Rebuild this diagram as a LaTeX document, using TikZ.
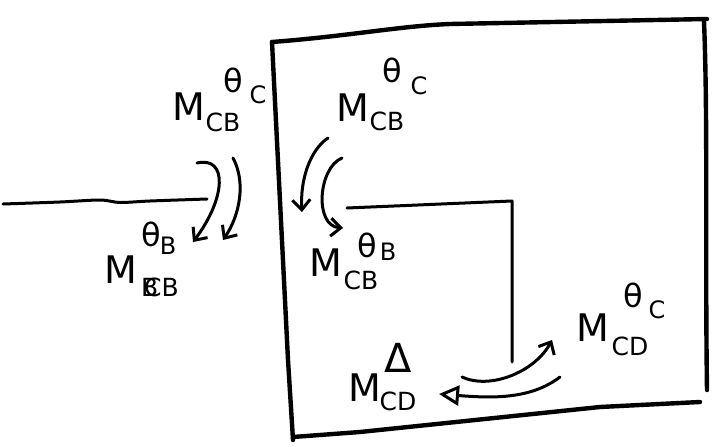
\documentclass[tikz,border=0pt]{standalone}
\usepackage{fontspec}
\setmainfont{DejaVu Sans}
\usetikzlibrary{arrows.meta}
\tikzset{
  ink/.style={line width=3pt, line cap=round, line join=round},
  frame/.style={line width=4.4pt, line cap=round, line join=round},
  barb/.style={ink, -{Straight Barb[length=10pt, width=18pt, line width=3pt]}},
  tri/.style={ink, -{Triangle[open, length=20pt, width=20pt, line width=3pt]}},
  lbl/.style={inner sep=0pt, anchor=center},
  bigM/.style={lbl, font=\fontsize{38}{38}\selectfont},
  subl/.style={lbl, font=\fontsize{25}{25}\selectfont},
  grk/.style={lbl, font=\fontsize{32}{32}\selectfont},
  gsub/.style={lbl, font=\fontsize{24}{24}\selectfont},
  delta/.style={lbl, font=\fontsize{40}{40}\selectfont},
}
\begin{document}
\begin{tikzpicture}[x=1pt, y=-1pt]
\useasboundingbox (0,0) rectangle (716,447);

% outer frame
\draw[frame] (272,42) .. controls (350,36) and (400,26) .. (450,24) -- (707,19);
\draw[frame] (704,21) .. controls (708,120) and (705,250) .. (707,390);
\draw[frame] (293,437) -- (360,432) -- (600,407) -- (700,402);
\draw[frame] (272,42) -- (288,360) -- (293,440);

% members
\draw[ink] plot[smooth] coordinates {(3,204) (60,202) (100,200) (120,202.5) (150,201) (207,199)};
\coordinate (jl) at (347,208);
\coordinate (jc) at (512,201);
\coordinate (jb) at (512,362);
\draw[ink] (jl) -- (jc) -- (jb);

% labels: left end of beam
\node[bigM] (m1) at (189,107) {M};
\node[subl] (m1s) at (223,122) {CB};
\node[grk]  (t1) at (233,80) {θ};
\node[gsub] (t1s) at (258,95) {C};

\node[grk]  (t3) at (151,234) {θ};
\node[gsub] (t3s) at (168,246) {B};
\node[bigM] (m3) at (121,270) {M};
\node[subl] (m3s) at (160,287) {\makebox[0pt][l]{B}\hspace{3pt}CB};

% labels: inside the frame
\node[grk]  (t2) at (392,70) {θ};
\node[gsub] (t2s) at (419,86) {C};
\node[bigM] (m2) at (353,108) {M};
\node[subl] (m2s) at (387,121) {CB};

\node[grk]  (t4) at (367,245) {θ};
\node[gsub] (t4s) at (388,252) {B};
\node[bigM] (m4) at (326,263) {M};
\node[subl] (m4s) at (361,280) {CB};

\node[grk]  (t5) at (633,295) {θ};
\node[gsub] (t5s) at (657,310) {C};
\node[bigM] (m5) at (593,328) {M};
\node[subl] (m5s) at (630,346) {CD};

\node[delta] (d6) at (398,358) {Δ};
\node[bigM] (m6) at (365,388) {M};
\node[subl] (m6s) at (398,401) {CD};

% moment arrows
\coordinate (a1s) at (197,163);  \coordinate (a1e) at (193,242);
\coordinate (a2s) at (233,158);  \coordinate (a2e) at (223,240);
\draw[barb] (a1s) .. controls (228,156) and (226,198) .. (a1e);
\draw[barb] (a2s) .. controls (246,182) and (240,215) .. (a2e);

\coordinate (b1s) at (328,138);  \coordinate (b1e) at (302,212);
\coordinate (b2s) at (342,158);  \coordinate (b2e) at (343,228);
\draw[barb] (b1s) .. controls (310,150) and (300,180) .. (b1e);
\draw[barb] (b2s) .. controls (318,168) and (314,226) .. (b2e);

\coordinate (c1s) at (462,377);  \coordinate (c1e) at (552,340);
\coordinate (c2s) at (560,377);  \coordinate (c2e) at (439,394);
\draw[barb] (c1s) .. controls (490,390) and (535,372) .. (c1e);
\draw[tri]  (c2s) .. controls (530,400) and (490,398) .. (c2e);
\end{tikzpicture}
\end{document}
